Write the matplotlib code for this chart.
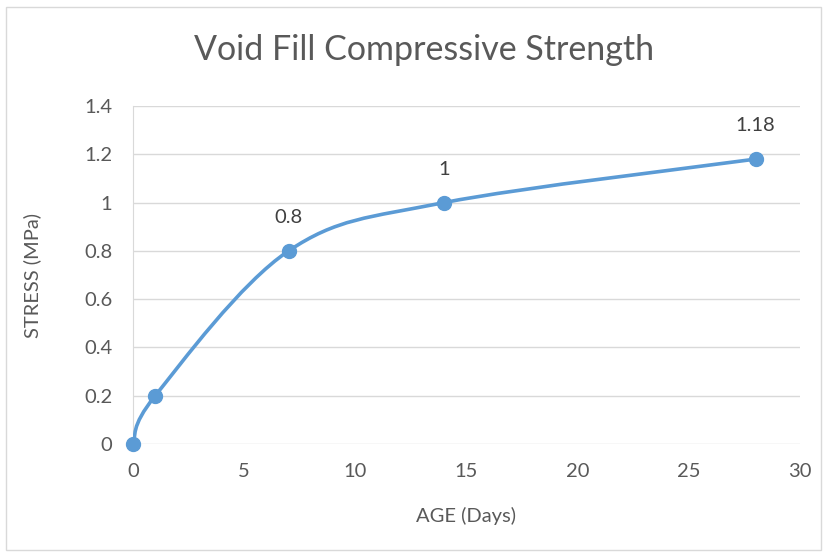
import matplotlib

matplotlib.use("Agg")
import matplotlib.pyplot as plt
from matplotlib.path import Path
from matplotlib.patches import PathPatch, Rectangle

age_days = [0, 1, 7, 14, 28]
stress_mpa = [0, 0.2, 0.8, 1.0, 1.18]
labels = ["", "", "0.8", "1", "1.18"]

BLUE = "#5B9BD5"
GRAY = "#595959"
plt.rcParams["font.family"] = ["Lato", "DejaVu Sans"]


def excel_smooth_path(xs, ys):
    # bezier segments like Excel's "smoothed line"
    pts = list(zip(xs, ys))
    n = len(pts)
    verts = [pts[0]]
    codes = [Path.MOVETO]
    for i in range(n - 1):
        p0 = pts[max(i - 1, 0)]
        p1 = pts[i]
        p2 = pts[i + 1]
        p3 = pts[min(i + 2, n - 1)]
        c1 = (p1[0] + (p2[0] - p0[0]) / 6, p1[1] + (p2[1] - p0[1]) / 6)
        c2 = (p2[0] - (p3[0] - p1[0]) / 6, p2[1] - (p3[1] - p1[1]) / 6)
        verts += [c1, c2, p2]
        codes += [Path.CURVE4] * 3
    return Path(verts, codes)


fig = plt.figure(figsize=(8.28, 5.56), dpi=100)
fig.patches.append(Rectangle((6 / 828, 6 / 556), 815 / 828, 543 / 556,
                             transform=fig.transFigure, fill=False,
                             edgecolor="#D9D9D9", lw=1))
ax = fig.add_axes([133 / 828, 1 - 444 / 556, 667 / 828, 338 / 556])

ax.set_xlim(0, 30)
ax.set_ylim(0, 1.4)
ax.set_xticks(range(0, 31, 5))
ax.set_yticks([0, 0.2, 0.4, 0.6, 0.8, 1.0, 1.2, 1.4])
ax.set_yticklabels(["0", "0.2", "0.4", "0.6", "0.8", "1", "1.2", "1.4"])
ax.grid(axis="y", color="#D9D9D9", lw=1)
ax.set_axisbelow(True)
for side in ("top", "right", "bottom"):
    ax.spines[side].set_visible(False)
ax.spines["left"].set_color("#D9D9D9")
ax.tick_params(axis="x", length=0, labelsize=14.5, colors=GRAY, pad=14)
ax.tick_params(axis="y", length=0, labelsize=14.5, colors=GRAY, pad=15)

ax.add_patch(PathPatch(excel_smooth_path(age_days, stress_mpa), fill=False,
                       edgecolor=BLUE, lw=2.6, capstyle="round", zorder=3))
ax.plot(age_days, stress_mpa, "o", color=BLUE, ms=10, zorder=4, clip_on=False)
for x, y, lab in zip(age_days, stress_mpa, labels):
    if lab:
        ax.annotate(lab, (x, y), xytext=(0, 24), textcoords="offset points",
                    ha="center", va="center", fontsize=14.5, color="#404040")

ax.set_xlabel("AGE (Days)", fontsize=14.5, color=GRAY)
ax.set_ylabel("STRESS (MPa)", fontsize=14.5, color=GRAY)
ax.xaxis.set_label_coords(0.5, (444 - 516) / 338)
ax.yaxis.set_label_coords((32 - 133) / 667, 0.5)
ax.xaxis.label.set_va("center")
ax.yaxis.label.set_va("center")
fig.text(0.5 * (196 + 652) / 828, 1 - 50 / 556, "Void Fill Compressive Strength",
         ha="center", va="center", fontsize=24.5, color=GRAY)

fig.savefig("out.png", dpi=100)
